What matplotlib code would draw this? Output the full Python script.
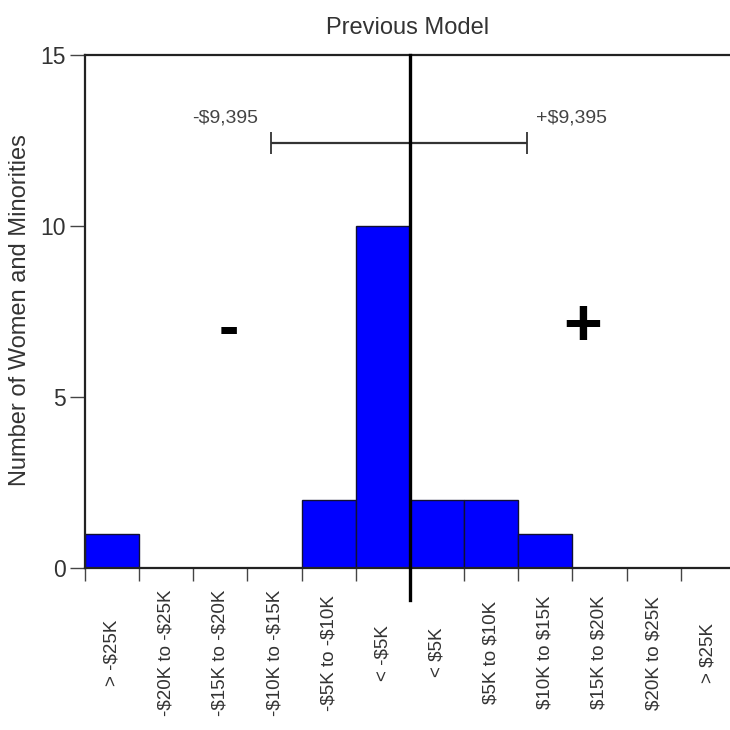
import matplotlib.pyplot as plt
import numpy as np

plt.rcParams['font.family'] = ['Liberation Sans', 'DejaVu Sans']
plt.rcParams['text.parse_math'] = False

# Bin labels, negative side then positive side
labels = ["> -$25K", "-$20K to -$25K", "-$15K to -$20K", "-$10K to -$15K",
          "-$5K to -$10K", "< -$5K", "< $5K", "$5K to $10K",
          "$10K to $15K", "$15K to $20K", "$20K to $25K", "> $25K"]
counts = [1, 0, 0, 0, 2, 10, 2, 2, 1, 0, 0, 0]

# Spread bar (in bin units, one bin = $5K)
spread_y = 12.43
spread_lo = -2.57
spread_hi = 2.16
spread_labels = ["-$9,395", "+$9,395"]

fig = plt.figure(figsize=(7.3, 7.3), dpi=100)
ax = fig.add_axes([85 / 730, 0.222, 645 / 730, 0.7027])

n = len(counts)
edges = np.arange(n + 1) - n / 2
centers = edges[:-1] + 0.5
ax.bar(centers, counts, width=1.0, color='#0000ff', edgecolor='#111133', linewidth=1.0, zorder=2)

ax.set_xlim(-6, 5.91)
ax.set_ylim(0, 15)

# spines
for s in ['left', 'bottom', 'top']:
    ax.spines[s].set_linewidth(1.6)
    ax.spines[s].set_color('#222222')
ax.spines['right'].set_visible(False)

# y axis
ax.set_yticks([0, 5, 10, 15])
ax.tick_params(axis='y', length=11, width=1.0, labelsize=16.5, pad=3,
               color='#444444', labelcolor='#333333')
ax.set_ylabel("Number of Women and Minorities", fontsize=17, color='#333333')
ax.yaxis.set_label_coords(-0.084, 0.503)

# x axis: ticks at bin edges, labels at centers plus a "0" in the middle
ax.set_xticks(edges[1:-1].tolist() + [edges[0]])
ax.set_xticklabels([])
ax.tick_params(axis='x', which='major', length=9, width=1.0, color='#444444')
ax.set_xticks(list(centers) + [0.0], minor=True)
ax.set_xticklabels(labels + ["0"], minor=True, rotation=90, va='center', ha='center', fontsize=13.5)
ax.tick_params(axis='x', which='minor', length=0, pad=61, labelcolor='#333333')

# center line
ax.plot([0, 0], [15, -0.94], color='black', linewidth=2.4, clip_on=False, zorder=4)

# spread bar
ax.errorbar([0], [spread_y], xerr=[[0 - spread_lo], [spread_hi - 0]], fmt='none',
            ecolor='#333333', elinewidth=1.6, capsize=8, capthick=1.3, zorder=3)
ax.text(-3.42, 13.16, spread_labels[0], fontsize=14, color='#444444', ha='center', va='center')
ax.text(2.99, 13.16, spread_labels[1], fontsize=14, color='#444444', ha='center', va='center')

# sign markers
ax.text(-3.34, 6.93, "-", fontsize=44, fontweight='bold', ha='center', va='center')
ax.text(3.19, 7.02, "+", fontsize=48, fontweight='bold', ha='center', va='center')

ax.set_title("Previous Model", fontsize=17, color='#333333', pad=15)

fig.savefig("out.png", dpi=100, facecolor='white')
